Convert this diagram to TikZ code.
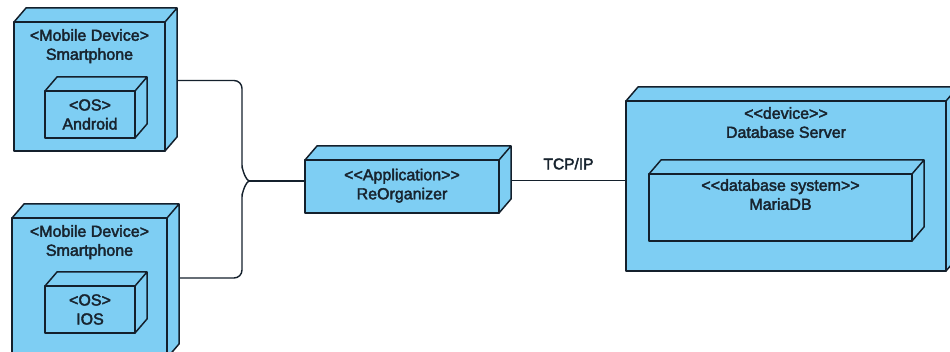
\documentclass[tikz,border=0pt]{standalone}
\usepackage{fontspec}
\setmainfont{Liberation Sans}
\newfontfamily\boxfont[FakeBold=2.5]{Liberation Sans}
\usepackage{tikz}
\usetikzlibrary{calc,positioning}
\definecolor{nodeblue}{HTML}{7ECEF3}
\definecolor{edge}{HTML}{14202C}
\definecolor{ink}{HTML}{18242F}

\begin{document}
\begin{tikzpicture}[x=1pt,y=-1pt,
    box/.style={draw=edge,fill=nodeblue,line width=1.5pt,inner sep=0pt,outer sep=0pt,
      line join=round,text=ink,align=center,font=\boxfont\fontsize{16}{19}\selectfont},
    face/.style={draw=edge,fill=nodeblue,line width=1.5pt,line join=round},
    wire/.style={draw=edge,line width=1.4pt},
    toplabel/.style={anchor=north,text=ink,align=center,font=\boxfont\fontsize{16}{19}\selectfont,inner sep=0pt}]
  \fill[white] (0,0) rectangle (950,352);
  \path[use as bounding box,clip] (0,0) rectangle (950,352);
  % devices
  \node[box,minimum width=151pt,minimum height=129pt,
    label={[toplabel,yshift=-7pt,name=mobAt]north:{<Mobile Device>\\Smartphone}}] (mobA) at (89.5,86.5) {};
  \node[box,minimum width=155pt,minimum height=140pt,
    label={[toplabel,yshift=-7pt,name=mobBt]north:{<Mobile Device>\\Smartphone}}] (mobB) at (89.5,288) {};
  \node[box,minimum width=320pt,minimum height=170pt,
    label={[toplabel,yshift=-6pt,name=srvt]north:{<{}<device>{}>\\Database Server}}] (srv) at (786,186) {};
  % inner boxes
  \node[box,minimum width=90pt,minimum height=47pt] (osA) at (90,114.5) {<OS>\\Android};
  \node[box,minimum width=90pt,minimum height=47pt] (osB) at (90,309.5) {<OS>\\IOS};
  \node[box,minimum width=194pt,minimum height=53pt,text depth=5pt] (app) at (402,186.5) {<{}<Application>{}>\\ReOrganizer};
  \node[box,minimum width=263pt,minimum height=67pt,
    label={[toplabel,yshift=-5pt,name=dbt]north:{<{}<database system>{}>\\MariaDB}}] (db) at (780.5,207.5) {};
  % 3d faces
  \foreach \n in {mobA,mobB,srv,osA,osB,app,db}
    \draw[face] (\n.north west) -- ++(12,-14) -- ($(\n.north east)+(12,-14)$)
      -- ($(\n.south east)+(12,-14)$) -- (\n.south east) -- (\n.north east) -- cycle
      (\n.north east) -- ++(12,-14);
  % connectors
  \coordinate (tip) at (250,181);
  \coordinate (bus) at (242,0);
  \coordinate (mobAr) at ($(mobA.east)+(12,-6)$);
  \coordinate (mobBr) at ($(mobB.east)+(12,-10)$);
  \draw[wire,rounded corners=8pt] (mobAr) -- (mobAr -| bus) -- (242,173) to[out=90,in=180] (tip);
  \draw[wire,rounded corners=8pt] (mobBr) -- (mobBr -| bus) -- (242,189) to[out=-90,in=180] (tip);
  \draw[wire] (tip) -- (tip -| app.west);
  \coordinate (appr) at ($(app.east)+(12,-6)$);
  \draw[wire] (appr) -- (appr -| srv.west)
    node[midway,above=7pt,text=ink,font=\boxfont\fontsize{15.5}{18}\selectfont] (tcp) {TCP/IP};
\end{tikzpicture}
\end{document}
